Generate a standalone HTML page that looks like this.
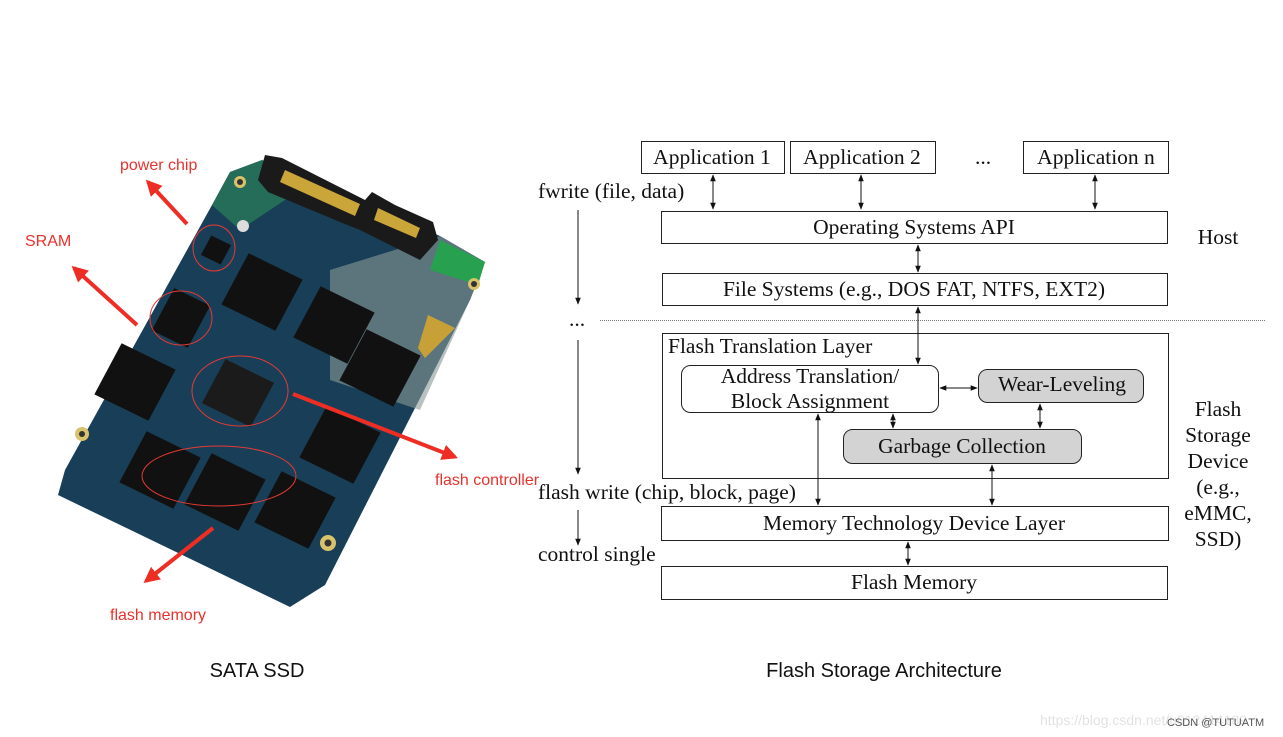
<!DOCTYPE html>
<html><head><meta charset="utf-8"><style>
html,body{margin:0;padding:0;background:#fff;}
svg{display:block;}
.s{font-family:"Liberation Serif",serif;font-size:21.5px;fill:#111;}
.r{font-family:"Liberation Sans","DejaVu Sans",sans-serif;font-size:16px;fill:#e8322c;}
.b{font-family:"Liberation Sans","DejaVu Sans",sans-serif;font-size:20px;fill:#111;}
</style></head><body>
<svg width="1283" height="737" viewBox="0 0 1283 737" xmlns="http://www.w3.org/2000/svg">
<defs>
<marker id="a" viewBox="0 0 10 10" refX="9" refY="5" markerWidth="7" markerHeight="7" orient="auto-start-reverse"><path d="M0,1 L10,5 L0,9 z" fill="#111"/></marker>
<marker id="ra" viewBox="0 0 10 10" refX="8" refY="5" markerWidth="4" markerHeight="4" orient="auto"><path d="M0,0 L10,5 L0,10 z" fill="#ee2d24"/></marker>
</defs>
<rect width="1283" height="737" fill="#fff"/>

<!-- SSD board -->
<polygon points="230,172 262,160 440,236 485,262 470,300 325,585 290,607 58,495 65,470 212,205" fill="#183f57"/>
<polygon points="330,270 440,236 485,262 470,300 420,410 330,380" fill="#8a9a96" opacity="0.6"/>
<polygon points="440,240 485,262 478,285 430,270" fill="#27a050"/>
<polygon points="230,172 262,160 300,190 240,230 212,205" fill="#2f8a5a" opacity="0.6"/>
<circle cx="240" cy="182" r="6" fill="#d8c36a"/><circle cx="240" cy="182" r="3" fill="#333"/>
<circle cx="474" cy="284" r="6" fill="#d8c36a"/><circle cx="474" cy="284" r="3" fill="#333"/>
<circle cx="82" cy="434" r="7" fill="#d8c36a"/><circle cx="82" cy="434" r="3" fill="#333"/>
<circle cx="328" cy="543" r="8" fill="#d8c36a"/><circle cx="328" cy="543" r="3.5" fill="#333"/>
<!-- connector -->
<polygon points="265,155 282,158 365,200 372,192 395,205 433,222 438,240 420,260 400,250 360,230 340,222 268,192 258,180" fill="#1a1a1a"/>
<polygon points="285,170 360,204 355,216 280,182" fill="#c9a53a"/>
<polygon points="378,208 420,228 416,238 374,220" fill="#c9a53a"/>
<polygon points="428,315 455,328 425,358 418,348" fill="#c8a038"/>
<!-- chips -->
<g fill="#111">
<rect x="-30" y="-29" width="60" height="58" transform="matrix(0.9,0.44,0.47,-0.88,262,292)"/>
<rect x="-30" y="-29" width="60" height="58" transform="matrix(0.9,0.44,0.47,-0.88,334,325)"/>
<rect x="-30" y="-29" width="60" height="58" transform="matrix(0.9,0.44,0.47,-0.88,380,368)"/>
<rect x="-30" y="-29" width="60" height="58" transform="matrix(0.9,0.44,0.47,-0.88,135,382)"/>
<rect x="-27" y="-25" width="54" height="50" transform="matrix(0.9,0.44,0.47,-0.88,238,393)" fill="#1b1b1b"/>
<rect x="-30" y="-29" width="60" height="58" transform="matrix(0.9,0.44,0.47,-0.88,340,445)"/>
<rect x="-30" y="-29" width="60" height="58" transform="matrix(0.9,0.44,0.47,-0.88,160,470)"/>
<rect x="-30" y="-29" width="60" height="58" transform="matrix(0.9,0.44,0.47,-0.88,225,492)"/>
<rect x="-30" y="-29" width="60" height="58" transform="matrix(0.9,0.44,0.47,-0.88,295,510)"/>
<rect x="-20" y="-24" width="40" height="48" transform="matrix(0.9,0.44,0.47,-0.88,181,318)"/>
<rect x="-11" y="-11" width="22" height="22" transform="matrix(0.9,0.44,0.47,-0.88,216,250)"/>
</g>
<circle cx="243" cy="226" r="6" fill="#ddd"/>
<!-- red annotations -->
<g fill="none" stroke="#e53a35" stroke-width="1">
<ellipse cx="214" cy="248" rx="21" ry="23"/>
<ellipse cx="181" cy="318" rx="31" ry="27"/>
<ellipse cx="240" cy="391" rx="48" ry="35"/>
<ellipse cx="219" cy="476" rx="77" ry="30"/>
</g>
<g stroke="#ee2d24" stroke-width="4" marker-end="url(#ra)">
<line x1="187" y1="224" x2="148" y2="182"/>
<line x1="137" y1="325" x2="74" y2="268"/>
<line x1="293" y1="394" x2="455" y2="457"/>
<line x1="213" y1="528" x2="146" y2="581"/>
</g>
<text class="r" x="120" y="170">power chip</text>
<text class="r" x="25" y="246">SRAM</text>
<text class="r" x="435" y="485">flash controller</text>
<text class="r" x="110" y="620">flash memory</text>

<!-- architecture -->
<g fill="#fff" stroke="#222" stroke-width="1">
<rect x="641.5" y="141.5" width="143" height="32"/>
<rect x="790.5" y="141.5" width="145" height="32"/>
<rect x="1023.5" y="141.5" width="145" height="32"/>
<rect x="661.5" y="211.5" width="506" height="32"/>
<rect x="662.5" y="273.5" width="505" height="32"/>
<rect x="662.5" y="333.5" width="506" height="145"/>
<rect x="681.5" y="365.5" width="257" height="47" rx="9"/>
<rect x="978.5" y="369.5" width="165" height="33" rx="9" fill="#d3d3d3"/>
<rect x="843.5" y="429.5" width="238" height="34" rx="9" fill="#d3d3d3"/>
<rect x="661.5" y="506.5" width="507" height="34"/>
<rect x="661.5" y="566.5" width="506" height="33"/>
</g>
<line x1="600" y1="320.5" x2="1265" y2="320.5" stroke="#777" stroke-width="1" stroke-dasharray="1,1"/>
<text class="s" x="712" y="164" text-anchor="middle">Application 1</text>
<text class="s" x="862" y="164" text-anchor="middle">Application 2</text>
<text class="s" x="983" y="164" text-anchor="middle">...</text>
<text class="s" x="1096" y="164" text-anchor="middle">Application n</text>
<text class="s" x="914" y="234" text-anchor="middle">Operating Systems API</text>
<text class="s" x="914" y="296" text-anchor="middle">File Systems (e.g., DOS FAT, NTFS, EXT2)</text>
<text class="s" x="668" y="353">Flash Translation Layer</text>
<text class="s" x="810" y="383" text-anchor="middle">Address Translation/</text>
<text class="s" x="810" y="408" text-anchor="middle">Block Assignment</text>
<text class="s" x="1062" y="391" text-anchor="middle">Wear-Leveling</text>
<text class="s" x="962" y="453" text-anchor="middle">Garbage Collection</text>
<text class="s" x="914" y="530" text-anchor="middle">Memory Technology Device Layer</text>
<text class="s" x="914" y="589" text-anchor="middle">Flash Memory</text>
<text class="s" x="538" y="198">fwrite (file, data)</text>
<text class="s" x="538" y="499">flash write (chip, block, page)</text>
<text class="s" x="538" y="561">control single</text>
<text class="s" x="569" y="326">...</text>
<text class="s" x="1218" y="244" text-anchor="middle">Host</text>
<g class="s" text-anchor="middle">
<text x="1218" y="416">Flash</text><text x="1218" y="442">Storage</text><text x="1218" y="468">Device</text>
<text x="1218" y="494">(e.g.,</text><text x="1218" y="520">eMMC,</text><text x="1218" y="546">SSD)</text>
</g>
<g stroke="#111" stroke-width="1" fill="none">
<line x1="578" y1="210" x2="578" y2="304" marker-end="url(#a)"/>
<line x1="578" y1="340" x2="578" y2="474" marker-end="url(#a)"/>
<line x1="578" y1="510" x2="578" y2="545" marker-end="url(#a)"/>
<line x1="713" y1="175" x2="713" y2="209" marker-start="url(#a)" marker-end="url(#a)"/>
<line x1="861" y1="175" x2="861" y2="209" marker-start="url(#a)" marker-end="url(#a)"/>
<line x1="1095" y1="175" x2="1095" y2="209" marker-start="url(#a)" marker-end="url(#a)"/>
<line x1="918" y1="245" x2="918" y2="272" marker-start="url(#a)" marker-end="url(#a)"/>
<line x1="918" y1="307" x2="918" y2="364" marker-start="url(#a)" marker-end="url(#a)"/>
<line x1="818" y1="414" x2="818" y2="505" marker-start="url(#a)" marker-end="url(#a)"/>
<line x1="893" y1="414" x2="893" y2="428" marker-start="url(#a)" marker-end="url(#a)"/>
<line x1="1040" y1="404" x2="1040" y2="428" marker-start="url(#a)" marker-end="url(#a)"/>
<line x1="992" y1="465" x2="992" y2="505" marker-start="url(#a)" marker-end="url(#a)"/>
<line x1="908" y1="542" x2="908" y2="565" marker-start="url(#a)" marker-end="url(#a)"/>
<line x1="940" y1="388" x2="977" y2="388" marker-start="url(#a)" marker-end="url(#a)"/>
</g>
<text class="b" x="257" y="677" text-anchor="middle">SATA SSD</text>
<text class="b" x="884" y="677" text-anchor="middle">Flash Storage Architecture</text>
<text x="1040" y="725" font-family="Liberation Sans,sans-serif" font-size="14" fill="#e2e2e2">https://blog.csdn.net/u012414189</text>
<text x="1167" y="726" font-family="Liberation Sans,sans-serif" font-size="11" fill="#555">CSDN @TUTUATM</text>
</svg>
</body></html>
